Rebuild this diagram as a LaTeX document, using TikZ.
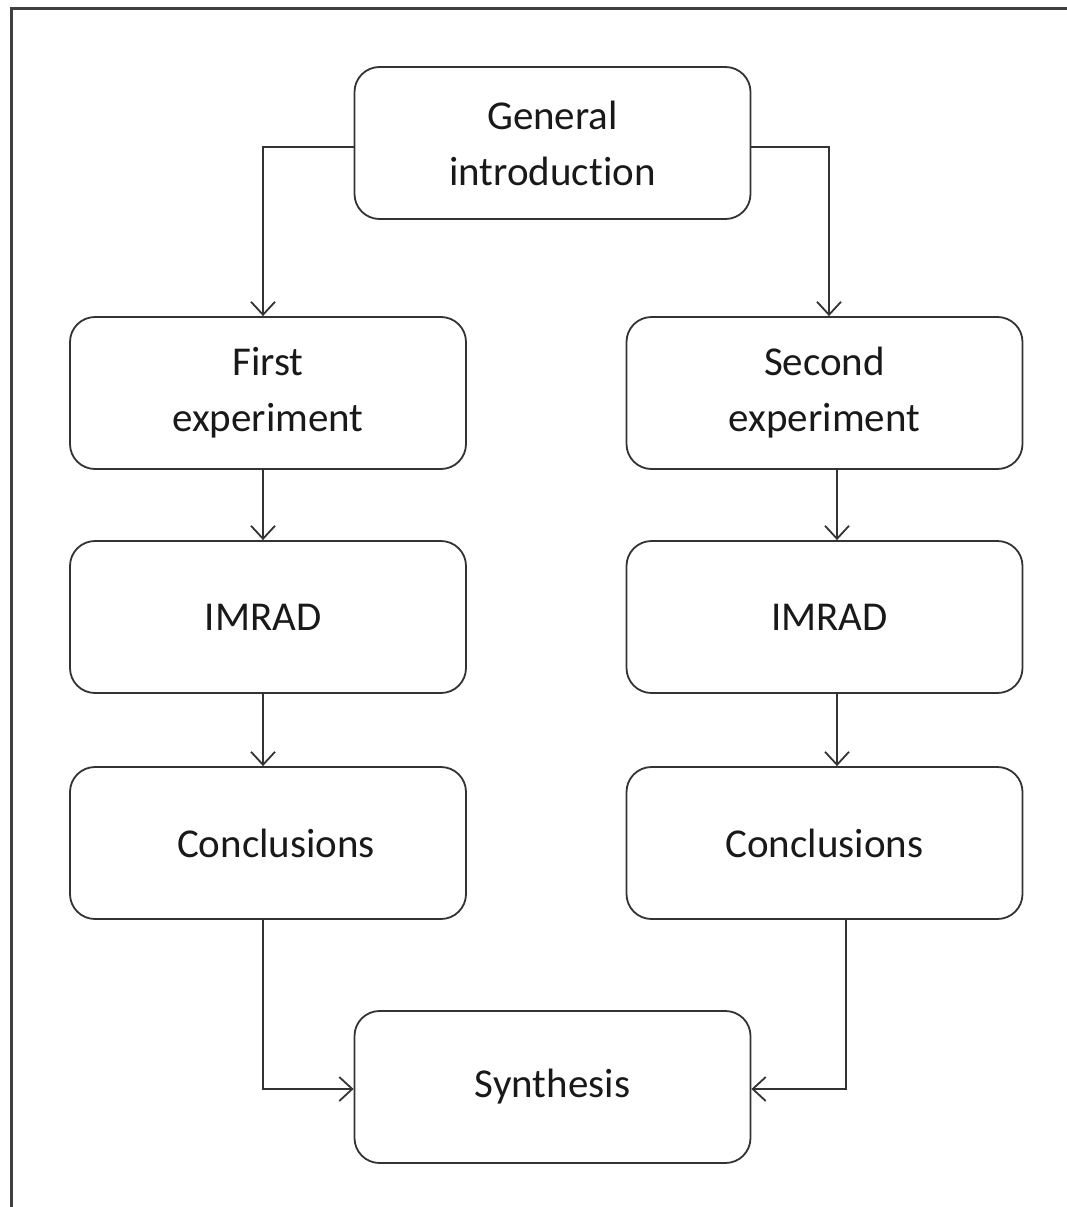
\documentclass[tikz,border=0pt]{standalone}
\usepackage{fontspec}
\setmainfont[Ligatures=NoCommon]{Carlito}
\usetikzlibrary{arrows.meta}
\definecolor{linec}{HTML}{333333}
\definecolor{framec}{HTML}{404040}
\begin{document}
\begin{tikzpicture}[x=1pt,y=-1pt,
  box/.style={draw=linec, line width=1.8pt, rounded corners=25pt, minimum width=396pt, minimum height=152pt,
    align=center, font=\fontsize{41}{56}\selectfont, text=black!90, inner sep=0pt},
  arr/.style={draw=linec, line width=1.8pt, -{Straight Barb[length=13pt,width=24pt,line width=1.8pt]}}]
\useasboundingbox (0,0) rectangle (1067,1207);
\draw[framec, line width=3pt] (11,1207) -- (11,9) -- (1067,9);
\node[box] (gi) at (552.5,143) {General\\introduction};
\node[box] (fe) at (268,393) {First\\experiment};
\node[box] (se) at (824.5,393) {Second\\experiment};
\node[box] (im1) at (268,617) {\hspace*{-10pt}IMRAD};
\node[box] (im2) at (824.5,617) {IMRAD\hspace*{-10pt}};
\node[box] (co1) at (268,843) {\hspace*{16pt}Conclusions};
\node[box] (co2) at (824.5,843) {Conclusions};
\node[box] (sy) at (552.5,1087) {Synthesis};
\draw[arr] ([yshift=-4pt]gi.west) -| ([xshift=-5pt]fe.north);
\draw[arr] ([yshift=-4pt]gi.east) -| ([xshift=4.5pt]se.north);
\draw[arr] ([xshift=-5pt]fe.south) -- ([xshift=-5pt]im1.north);
\draw[arr] ([xshift=-5pt]im1.south) -- ([xshift=-5pt]co1.north);
\draw[arr] ([xshift=12.5pt]se.south) -- ([xshift=12.5pt]im2.north);
\draw[arr] ([xshift=12.5pt]im2.south) -- ([xshift=12.5pt]co2.north);
\draw[arr] ([xshift=-5pt]co1.south) |- ([yshift=-2pt]sy.west);
\draw[arr] ([xshift=21.5pt]co2.south) |- ([yshift=-2pt]sy.east);
\end{tikzpicture}
\end{document}
